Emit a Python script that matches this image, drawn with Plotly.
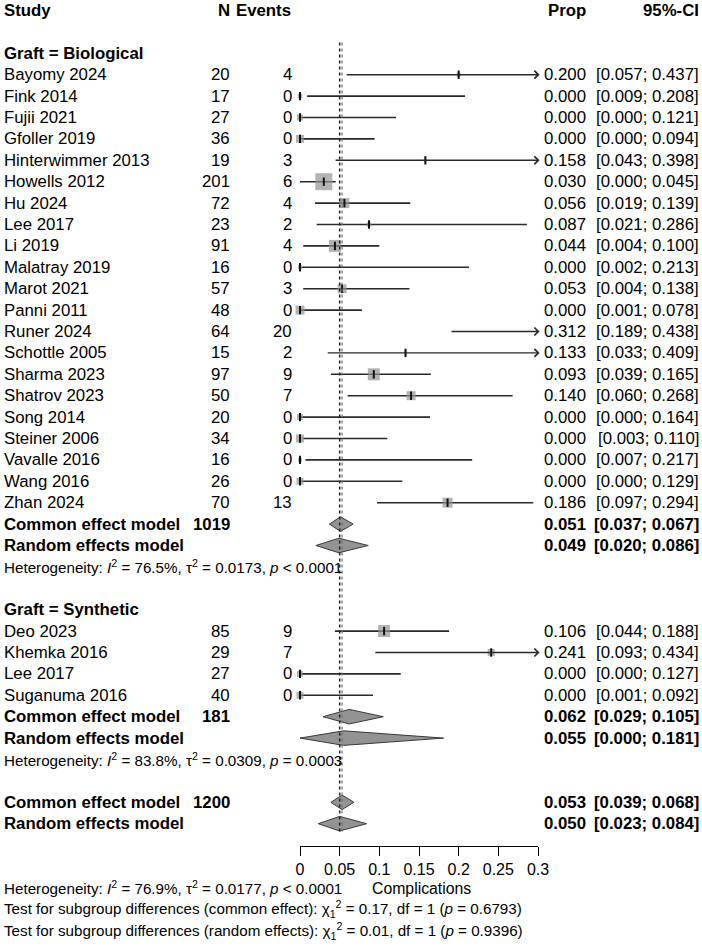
import plotly.graph_objects as go

# ---------------- data ----------------
bio_study = ["Bayomy 2024", "Fink 2014", "Fujii 2021", "Gfoller 2019", "Hinterwimmer 2013",
             "Howells 2012", "Hu 2024", "Lee 2017", "Li 2019", "Malatray 2019", "Marot 2021",
             "Panni 2011", "Runer 2024", "Schottle 2005", "Sharma 2023", "Shatrov 2023",
             "Song 2014", "Steiner 2006", "Vavalle 2016", "Wang 2016", "Zhan 2024"]
bio_n = [20, 17, 27, 36, 19, 201, 72, 23, 91, 16, 57, 48, 64, 15, 97, 50, 20, 34, 16, 26, 70]
bio_events = [4, 0, 0, 0, 3, 6, 4, 2, 4, 0, 3, 0, 20, 2, 9, 7, 0, 0, 0, 0, 13]
bio_prop = [0.200, 0.000, 0.000, 0.000, 0.158, 0.030, 0.056, 0.087, 0.044, 0.000, 0.053,
            0.000, 0.312, 0.133, 0.093, 0.140, 0.000, 0.000, 0.000, 0.000, 0.186]
bio_lo = [0.057, 0.009, 0.000, 0.000, 0.043, 0.000, 0.019, 0.021, 0.004, 0.002, 0.004,
          0.001, 0.189, 0.033, 0.039, 0.060, 0.000, 0.003, 0.007, 0.000, 0.097]
bio_hi = [0.437, 0.208, 0.121, 0.094, 0.398, 0.045, 0.139, 0.286, 0.100, 0.213, 0.138,
          0.078, 0.438, 0.409, 0.165, 0.268, 0.164, 0.110, 0.217, 0.129, 0.294]
bio_weight = [1.6, 2.0, 3.6, 6.4, 0.9, 28.9, 10.0, 2.0, 14.4, 1.6, 8.1,
              8.1, 10.0, 0.9, 14.4, 8.1, 3.6, 6.4, 1.6, 4.9, 10.0]

syn_study = ["Deo 2023", "Khemka 2016", "Lee 2017", "Suganuma 2016"]
syn_n = [85, 29, 27, 40]
syn_events = [9, 7, 0, 0]
syn_prop = [0.106, 0.241, 0.000, 0.000]
syn_lo = [0.044, 0.093, 0.000, 0.001]
syn_hi = [0.188, 0.434, 0.127, 0.092]
syn_weight = [14.4, 4.9, 3.6, 4.9]

# summaries: [estimate, lower, upper]
bio_common = [0.051, 0.037, 0.067]
bio_random = [0.049, 0.020, 0.086]
syn_common = [0.062, 0.029, 0.105]
syn_random = [0.055, 0.000, 0.181]
all_common = [0.053, 0.039, 0.068]
all_random = [0.050, 0.023, 0.084]
bio_total_n, syn_total_n, all_total_n = 1019, 181, 1200

het_bio = "Heterogeneity: <i>I</i><sup>2</sup> = 76.5%, τ<sup>2</sup> = 0.0173, <i>p</i> < 0.0001"
het_syn = "Heterogeneity: <i>I</i><sup>2</sup> = 83.8%, τ<sup>2</sup> = 0.0309, <i>p</i> = 0.0003"
het_all = "Heterogeneity: <i>I</i><sup>2</sup> = 76.9%, τ<sup>2</sup> = 0.0177, <i>p</i> < 0.0001"
test_common = "Test for subgroup differences (common effect): χ<sub>1</sub><sup>2</sup> = 0.17, df = 1 (<i>p</i> = 0.6793)"
test_random = "Test for subgroup differences (random effects): χ<sub>1</sub><sup>2</sup> = 0.01, df = 1 (<i>p</i> = 0.9396)"

tick_vals = [0, 0.05, 0.1, 0.15, 0.2, 0.25, 0.3]
tick_text = ["0", "0.05", "0.1", "0.15", "0.2", "0.25", "0.3"]
x_label = "Complications"

# ---------------- layout helpers ----------------
W, H = 702, 946
ROW0, ROWH = 10.5, 21.4
FONT = "Liberation Sans, Arial, Helvetica, sans-serif"
FS = 16.8
FS_SMALL = 15.2
XMAX = 0.3

def px(x):
    return x / W

fig = go.Figure()
ann = []

def text(xpix, row, s, anchor="left", bold=False, size=FS):
    if bold:
        s = "<b>" + s + "</b>"
    ann.append(dict(x=px(xpix), y=row, xref="paper", yref="y", text=s, showarrow=False,
                    xanchor=anchor, yanchor="middle", borderpad=0,
                    font=dict(family=FONT, size=size, color="black")))

# header
text(3, 0, "Study", bold=True)
text(231, 0, "N", anchor="right", bold=True)
text(292, 0, "Events", anchor="right", bold=True)
text(587, 0, "Prop", anchor="right", bold=True)
text(700, 0, "95%-CI", anchor="right", bold=True)

def study_rows(start_row, names, ns, evs, props, los, his, weights):
    xs_sq, ys_sq, sz_sq = [], [], []
    xs_c, ys_c = [], []
    for i, name in enumerate(names):
        r = start_row + i
        text(3, r, name)
        text(231, r, str(ns[i]), anchor="right")
        text(293, r, str(evs[i]), anchor="right")
        text(587, r, f"{props[i]:.3f}", anchor="right")
        text(700, r, f"[{los[i]:.3f}; {his[i]:.3f}]", anchor="right")
        if his[i] > XMAX:
            ann.append(dict(x=XMAX + 0.002, y=r, ax=los[i], ay=r, xref="x", yref="y", axref="x", ayref="y",
                            text="", showarrow=True, arrowhead=4, arrowsize=1.1, arrowwidth=1.4,
                            arrowcolor="#2a2a2a", standoff=0, startstandoff=0))
        else:
            fig.add_trace(go.Scatter(x=[los[i], his[i]], y=[r, r], mode="lines",
                                     line=dict(color="#2a2a2a", width=1.6), hoverinfo="skip",
                                     showlegend=False))
        if props[i] <= XMAX:
            xs_sq.append(props[i]); ys_sq.append(r); sz_sq.append(3.16 * weights[i] ** 0.5)
            xs_c.append(props[i]); ys_c.append(r)
    fig.add_trace(go.Scatter(x=xs_sq, y=ys_sq, mode="markers", cliponaxis=False,
                             marker=dict(symbol="square", size=sz_sq, color="#939393",
                                         line=dict(width=0)), showlegend=False, hoverinfo="skip"))
    fig.add_trace(go.Scatter(x=xs_c, y=ys_c, mode="markers", cliponaxis=False,
                             marker=dict(symbol="line-ns", size=6, line=dict(width=2, color="#111")),
                             showlegend=False, hoverinfo="skip"))

def diamond(row, est, label, n_text):
    e, lo, hi = est
    h = 0.34
    fig.add_trace(go.Scatter(x=[lo, e, hi, e, lo], y=[row, row - h, row, row + h, row],
                             mode="lines", fill="toself", fillcolor="#939393",
                             line=dict(color="#3a3a3a", width=1), showlegend=False, hoverinfo="skip"))
    text(3, row, label, bold=True)
    if n_text:
        text(231, row, n_text, anchor="right", bold=True)
    text(587, row, f"{e:.3f}", anchor="right", bold=True)
    text(700, row, f"[{lo:.3f}; {hi:.3f}]", anchor="right", bold=True)

# Biological
text(3, 2, "Graft = Biological", bold=True)
study_rows(3, bio_study, bio_n, bio_events, bio_prop, bio_lo, bio_hi, bio_weight)
diamond(24, bio_common, "Common effect model", str(bio_total_n))
diamond(25, bio_random, "Random effects model", "")
text(3, 26, het_bio, size=FS_SMALL)

# Synthetic
text(3, 28, "Graft = Synthetic", bold=True)
study_rows(29, syn_study, syn_n, syn_events, syn_prop, syn_lo, syn_hi, syn_weight)
diamond(33, syn_common, "Common effect model", str(syn_total_n))
diamond(34, syn_random, "Random effects model", "")
text(3, 35, het_syn, size=FS_SMALL)

# overall
diamond(37, all_common, "Common effect model", str(all_total_n))
diamond(38, all_random, "Random effects model", "")

# bottom texts
text(3, 41, het_all, size=FS_SMALL)
ann.append(dict(x=0.153, y=41.05, xref="x", yref="y", text=x_label, showarrow=False, borderpad=0,
                xanchor="center", yanchor="middle", font=dict(family=FONT, size=15.8, color="black")))
text(3, 42, test_common, size=FS_SMALL)
text(3, 43, test_random, size=FS_SMALL)

# reference lines
fig.add_shape(type="line", x0=all_common[0], x1=all_common[0], y0=1.5, y1=38.5, xref="x", yref="y",
              line=dict(color="#707070", width=1.2, dash="3px,3px"))
fig.add_shape(type="line", x0=all_random[0], x1=all_random[0], y0=1.5, y1=38.5, xref="x", yref="y",
              line=dict(color="#222", width=1.5, dash="dot"))

axis_px = 846
fig.update_layout(
    width=W, height=H, autosize=False, margin=dict(l=0, r=0, t=0, b=0, pad=0, autoexpand=False),
    paper_bgcolor="white", plot_bgcolor="white",
    annotations=ann,
    xaxis=dict(domain=[px(300), px(538)], range=[0, XMAX], anchor="free", position=1 - axis_px / H,
               automargin=False,
               showgrid=False, zeroline=False, showline=True, linecolor="black", linewidth=1.3,
               ticks="outside", ticklen=9, tickwidth=1.3, tickcolor="black",
               tickvals=tick_vals, ticktext=tick_text,
               tickfont=dict(family=FONT, size=16, color="black")),
    yaxis=dict(domain=[0, 1], range=[(H - ROW0) / ROWH, -ROW0 / ROWH], visible=False,
               automargin=False, showgrid=False, zeroline=False),
)

fig.write_html("out.html")
